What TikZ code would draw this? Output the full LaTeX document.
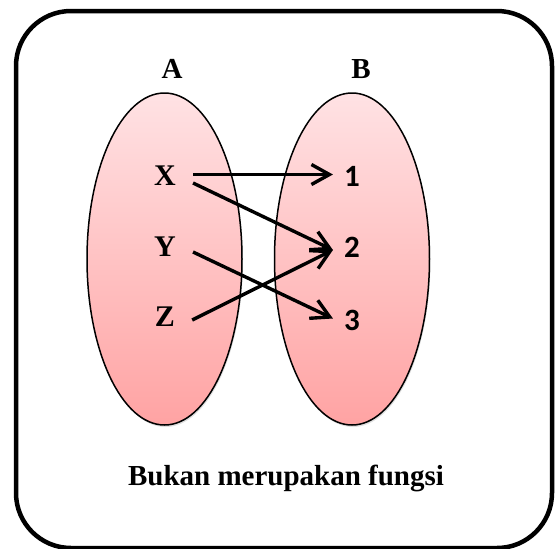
\documentclass[tikz,border=0pt]{standalone}
\usepackage{fontspec}
\setmainfont{Liberation Serif}
\newfontfamily\numfont{Carlito}
\usepackage{xcolor}
\usetikzlibrary{arrows.meta,shapes.geometric,shadows}
\definecolor{setTop}{HTML}{FFE2E4}
\definecolor{setBottom}{HTML}{FFA3A3}
\tikzset{
  frame/.style={draw=black, line width=4.5pt, rounded corners=55pt},
  setoval/.style={ellipse, draw=black, line width=1.5pt, minimum width=155pt, minimum height=332pt,
    top color=setTop, bottom color=setBottom, drop shadow={shadow xshift=1pt, shadow yshift=-2pt, opacity=0.25}},
  setname/.style={font=\bfseries\fontsize{29}{30}\selectfont, inner sep=0pt},
  elem/.style={font=\bfseries\fontsize{30}{30}\selectfont, inner sep=0pt},
  num/.style={font=\numfont\bfseries\fontsize{31}{30}\selectfont, inner sep=0pt},
  maparrow/.style={-{Straight Barb[length=18pt, width=20pt]}, line width=3.4pt},
}
\begin{document}
\begin{tikzpicture}[x=1pt, y=-1pt]
  \useasboundingbox (0,0) rectangle (555,549);
  \draw[frame] (16,11) rectangle (552,548);
  \node[setoval] (setA) at (164.5,259) {};
  \node[setoval] (setB) at (352,259) {};
  \node[setname] (labA) at (172,69) {A};
  \node[setname] (labB) at (361,69) {B};
  \node[elem] (x) at (165,176) {X};
  \node[elem] (y) at (165,247) {Y};
  \node[elem] (z) at (165,317) {Z};
  \node[num] (n1) at (352,176) {1};
  \node[num] (n2) at (352,247) {2};
  \node[num] (n3) at (352,320) {3};
  \draw[maparrow] ([shift={(17pt,1.5pt)}]x.east) -- ([shift={(-11pt,1.5pt)}]n1.west);
  \draw[maparrow] ([shift={(17pt,-7pt)}]x.east) -- ([shift={(-11pt,-3pt)}]n2.west);
  \draw[maparrow] ([shift={(17pt,-5pt)}]y.east) -- ([shift={(-11pt,1.5pt)}]n3.west);
  \draw[maparrow] ([shift={(17pt,-3pt)}]z.east) -- ([shift={(-11pt,-3pt)}]n2.west);
  \node[setname] (caption) at (286,478) {Bukan merupakan fungsi};
\end{tikzpicture}
\end{document}
